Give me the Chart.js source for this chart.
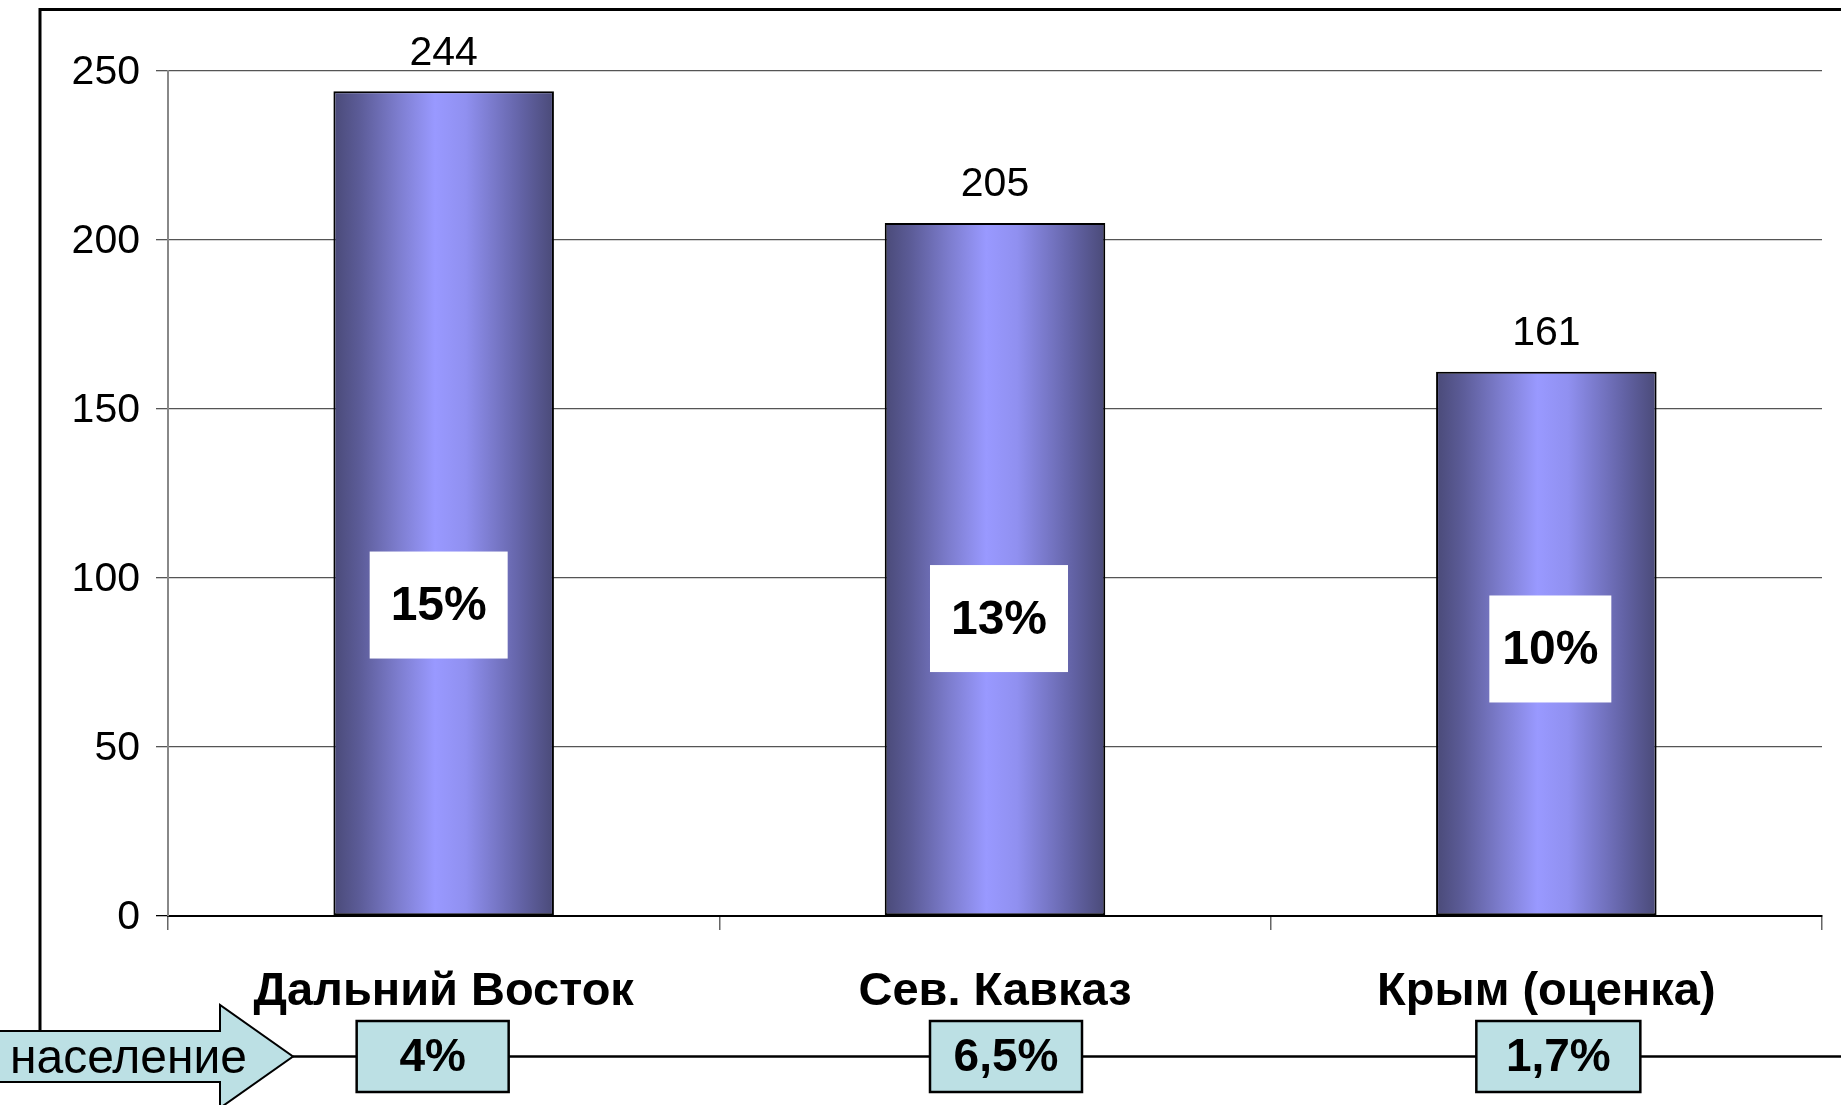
<!DOCTYPE html>
<html>
<head>
<meta charset="utf-8">
<script src="https://cdn.jsdelivr.net/npm/chart.js@4.4.0/dist/chart.umd.min.js"></script>
<style>
  html, body { margin: 0; padding: 0; background: #ffffff; }
</style>
</head>
<body>
<canvas id="chart" width="1841" height="1105"></canvas>
<script>
// data
const categories = ["Дальний Восток", "Сев. Кавказ", "Крым (оценка)"];
const values = [244, 205, 161];
const shareLabels = ["15%", "13%", "10%"];
const populationLabels = ["4%", "6,5%", "1,7%"];
const populationTitle = "население";
const yTicks = [0, 50, 100, 150, 200, 250];

const FONT = "'Liberation Sans', Arial, sans-serif";
const BOX_FILL = "#bce0e4";

// horizontal gradient for each bar (dark edges, light center)
function barGradient(ctx) {
  const chart = ctx.chart;
  if (!chart.chartArea || ctx.dataIndex === undefined) return "#8a8ae8";
  const xs = chart.scales.x;
  const cx = xs.getPixelForValue(ctx.dataIndex);
  const half = (xs.width / categories.length) * 0.4 / 2;
  const g = chart.ctx.createLinearGradient(cx - half, 0, cx + half, 0);
  g.addColorStop(0, "#4a4a78");
  g.addColorStop(0.12, "#5c5c98");
  g.addColorStop(0.3, "#7e7ed0");
  g.addColorStop(0.46, "#9999ff");
  g.addColorStop(0.6, "#9090f0");
  g.addColorStop(0.85, "#6363a6");
  g.addColorStop(1, "#4a4a78");
  return g;
}

const annotationsPlugin = {
  id: "annotations",
  beforeDraw(chart) {
    const c = chart.ctx;
    // outer frame (left + top)
    c.save();
    c.strokeStyle = "#000";
    c.lineWidth = 3;
    c.beginPath();
    c.moveTo(40, 1031);
    c.lineTo(40, 9.5);
    c.lineTo(chart.width, 9.5);
    c.stroke();
    c.restore();
  },
  afterDatasetsDraw(chart, args, opts) {
    const c = chart.ctx;
    const bars = chart.getDatasetMeta(0).data;
    const ys = chart.scales.y;
    c.save();

    // value labels above bars
    c.fillStyle = "#000";
    c.textAlign = "center";
    c.textBaseline = "middle";
    c.font = "41px " + FONT;
    bars.forEach((bar, i) => {
      c.fillText(String(values[i]), bar.x, bar.y - 38);
    });

    // white share boxes inside bars
    bars.forEach((bar, i) => {
      const cy = ys.getPixelForValue(opts.shareAt[i]);
      const cx = bar.x + opts.shareDx[i];
      const w = opts.shareW[i], h = 107;
      c.fillStyle = "#ffffff";
      c.fillRect(cx - w / 2, cy - h / 2, w, h);
      c.fillStyle = "#000";
      c.font = "bold 48px " + FONT;
      c.fillText(shareLabels[i], cx, cy + 2);
    });

    // population row
    const lineY = 1056.5;
    c.strokeStyle = "#000";
    c.lineWidth = 2.5;
    c.beginPath();
    c.moveTo(293, lineY);
    c.lineTo(chart.width, lineY);
    c.stroke();

    // arrow
    c.beginPath();
    c.moveTo(-5, 1031);
    c.lineTo(220, 1031);
    c.lineTo(220, 1005);
    c.lineTo(293, lineY);
    c.lineTo(220, 1108);
    c.lineTo(220, 1082);
    c.lineTo(-5, 1082);
    c.closePath();
    c.fillStyle = BOX_FILL;
    c.fill();
    c.lineWidth = 2;
    c.stroke();
    c.fillStyle = "#000";
    c.textAlign = "left";
    c.font = "48px " + FONT;
    c.fillText(populationTitle, 10, lineY + 3);

    // population boxes
    c.textAlign = "center";
    bars.forEach((bar, i) => {
      const w = opts.popW[i], h = 71;
      const cx = bar.x + opts.popDx[i];
      c.fillStyle = BOX_FILL;
      c.fillRect(cx - w / 2, 1021, w, h);
      c.lineWidth = 2.5;
      c.strokeStyle = "#000";
      c.strokeRect(cx - w / 2, 1021, w, h);
      c.fillStyle = "#000";
      c.font = "bold 46px " + FONT;
      c.fillText(populationLabels[i], cx, 1021 + h / 2 + 2);
    });

    c.restore();
  },
};

new Chart(document.getElementById("chart"), {
  type: "bar",
  data: {
    labels: categories,
    datasets: [
      {
        data: values,
        backgroundColor: barGradient,
        borderColor: "#000",
        borderWidth: 2,
        borderSkipped: false,
        barPercentage: 0.8,
        categoryPercentage: 0.5,
      },
    ],
  },
  options: {
    responsive: false,
    animation: false,
    layout: {
      padding: { top: 71, right: 19, bottom: 0, left: 0 },
    },
    plugins: {
      legend: { display: false },
      tooltip: { enabled: false },
      annotations: {
        shareAt: [92, 88, 79],
        shareDx: [-5, 4, 4],
        shareW: [138, 138, 122],
        popW: [152, 152, 164],
        popDx: [-11, 11, 12],
      },
    },
    scales: {
      x: {
        offset: true,
        grid: {
          offset: true,
          drawOnChartArea: false,
          drawTicks: true,
          tickLength: 14,
          color: "#666",
          lineWidth: 1.5,
        },
        border: { color: "#000", width: 2 },
        ticks: {
          color: "#000",
          font: { family: FONT, size: 47, weight: "bold" },
          padding: 34,
          maxRotation: 0,
          autoSkip: false,
        },
        afterFit(scale) {
          scale.height = 189;
        },
      },
      y: {
        min: 0,
        max: 250,
        afterBuildTicks(scale) {
          scale.ticks = yTicks.map((v) => ({ value: v }));
        },
        ticks: {
          color: "#000",
          font: { family: FONT, size: 41 },
          padding: 16,
          labelOffset: 2,
        },
        grid: {
          color: (ctx) => (ctx.tick && ctx.tick.value === 0 ? "#000" : "#555"),
          lineWidth: 1.3,
          tickLength: 12,
        },
        border: { color: "#888", width: 2 },
        afterFit(scale) {
          scale.width = 168;
        },
      },
    },
  },
  plugins: [annotationsPlugin],
});
</script>
</body>
</html>
